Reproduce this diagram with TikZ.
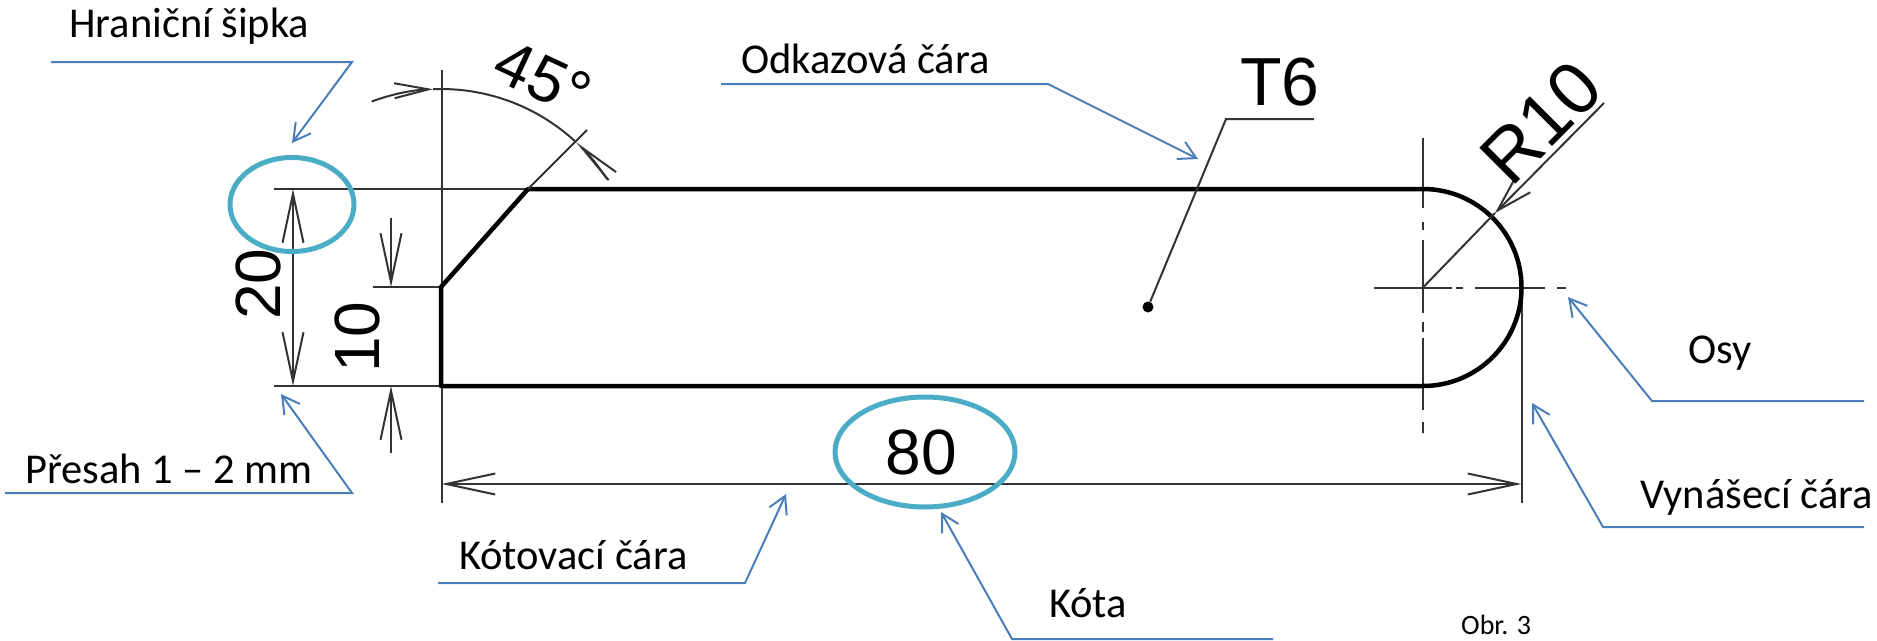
\documentclass[tikz,border=0pt]{standalone}
\usepackage{fontspec}
\setsansfont{Carlito}
\newfontfamily\dimfont{Liberation Sans}
\usetikzlibrary{arrows.meta}

\tikzset{
  callout/.style={font=\sffamily\fontsize{42.5}{50}\selectfont,anchor=base west,inner sep=0pt},
  dimtext/.style={font=\dimfont\fontsize{#1}{#1}\selectfont,inner sep=0pt},
  leader/.style={draw=leaderblue,line width=2pt,-{Straight Barb[length=17pt,width=19pt,line width=2pt]}},
  thinline/.style={draw=drawgray,line width=2pt},
  dimline/.style={thinline,-{Straight Barb[length=49pt,width=21pt,line width=2pt]}},
  outline/.style={draw=black,line width=4.5pt,line join=round},
  ring/.style={draw=ringteal,line width=5pt}
}
\definecolor{leaderblue}{HTML}{4A7EBB}
\definecolor{drawgray}{HTML}{333333}
\definecolor{ringteal}{HTML}{4BACC6}

\begin{document}
\begin{tikzpicture}[x=1pt,y=1pt]
  \useasboundingbox (0,0) rectangle (1877,-640);

  \coordinate (P1) at (441,-386);
  \coordinate (P2) at (441,-287);
  \coordinate (P3) at (528,-189);
  \coordinate (P4) at (1423,-189);
  \coordinate (P5) at (1423,-386);
  \coordinate (Ctr) at (1423,-287.5);
  \coordinate (RimR) at (1521.5,-287.5);

  \draw[thinline] (274,-189) -- (P3);
  \draw[thinline] (274,-386) -- (P1);
  \draw[thinline] (373,-287) -- (P2);
  \draw[thinline] (441.5,-70) -- (441.5,-503);
  \draw[thinline] (RimR) -- (1521.5,-503);

  \draw[thinline,dash pattern=on 9pt off 12pt on 70pt off 12pt on 7pt off 4pt on 90pt off 0pt] (1566,-287.5) -- (1374,-287.5);
  \draw[thinline,dash pattern=on 70pt off 14pt on 8pt off 10pt on 73pt off 9pt on 10pt off 6pt on 72pt off 12pt on 11pt off 0pt] (1423,-138) -- (1423,-433);

  \draw[outline] (P1) -- (P2) -- (P3) -- (P4) arc[start angle=90,end angle=-90,radius=98.5pt] -- cycle;

  \draw[dimline,{Straight Barb[length=49pt,width=21pt,line width=2pt]}-{Straight Barb[length=49pt,width=21pt,line width=2pt]}] (293,-189) -- (293,-386);
  \draw[dimline] (391,-218) -- (391,-287);
  \draw[dimline] (391,-453) -- (391,-386);
  \draw[dimline,{Straight Barb[length=49pt,width=21pt,line width=2pt]}-{Straight Barb[length=49pt,width=21pt,line width=2pt]}] (441.5,-484) -- (1521.5,-484);

  \draw[thinline] (P3) -- (587,-130);
  \draw[thinline] (441,-287) ++(92.3:198) arc[start angle=92.3,end angle=47,radius=198pt];
  \draw[thinline,-{Straight Barb[length=34pt,width=15pt,line width=2pt]}] (441,-287) ++(110.5:198) arc[start angle=110.5,end angle=92.3,radius=198pt];
  \draw[thinline,-{Straight Barb[length=42pt,width=11pt,line width=2pt]}] (441,-287) ++(33:198) arc[start angle=33,end angle=47,radius=198pt];

  \coordinate (RTip) at (1495,-213);
  \draw[thinline] (Ctr) -- (RTip);
  \draw[thinline,-{Straight Barb[length=36pt,width=21pt,line width=2pt]}] (1604,-103) -- (RTip);

  \node[circle,fill=black,inner sep=0pt,minimum size=11pt] (Dot) at (1148,-307) {};
  \coordinate (TBend) at (1226,-119);
  \draw[thinline] (Dot) -- (TBend) -- (1314,-119);

  \node[dimtext=68,anchor=base west] (T6)  at (1240,-105) {T6};
  \node[dimtext=74,rotate=45] (R10) at (1541,-122) {R10};
  \node[dimtext=64,rotate=-25] (A45) at (543,-78) {45°};
  \node[dimtext=64,rotate=90] (D20) at (258,-284) {20};
  \node[dimtext=64,rotate=90] (D10) at (357,-337) {10};
  \node[dimtext=64] (D80) at (921,-452) {80};

  \draw[ring] (292,-204.5) ellipse[x radius=62pt,y radius=47pt];
  \draw[ring] (925,-452) ellipse[x radius=90pt,y radius=55pt];

  \node[callout] (Hs) at (69,-37)   {Hraniční šipka};
  \node[callout] (Oc) at (741,-73)  {Odkazová čára};
  \node[callout] (Os) at (1688,-363) {Osy};
  \node[callout] (Vc) at (1640,-508) {Vynášecí čára};
  \node[callout] (Pr) at (25,-483)  {Přesah 1 – 2 mm};
  \node[callout] (Kc) at (459,-569) {Kótovací čára};
  \node[callout] (Ko) at (1049,-617) {Kóta};
  \node[font=\sffamily\fontsize{28}{32}\selectfont,anchor=base west,inner sep=0pt] (Ob) at (1461,-634) {Obr. 3};

  \draw[leader] (51,-62)    -- (352,-62)   -- (292,-143);
  \draw[leader] (721,-84)   -- (1048,-84)  -- (1198,-159);
  \draw[leader] (1864,-401) -- (1652,-401) -- (1568,-297);
  \draw[leader] (1864,-527) -- (1603,-527) -- (1532,-403);
  \draw[leader] (5,-493)    -- (352,-493)  -- (281,-394);
  \draw[leader] (438,-583)  -- (745,-583)  -- (786,-494);
  \draw[leader] (1273,-639) -- (1012,-639) -- (941,-512);
\end{tikzpicture}
\end{document}
